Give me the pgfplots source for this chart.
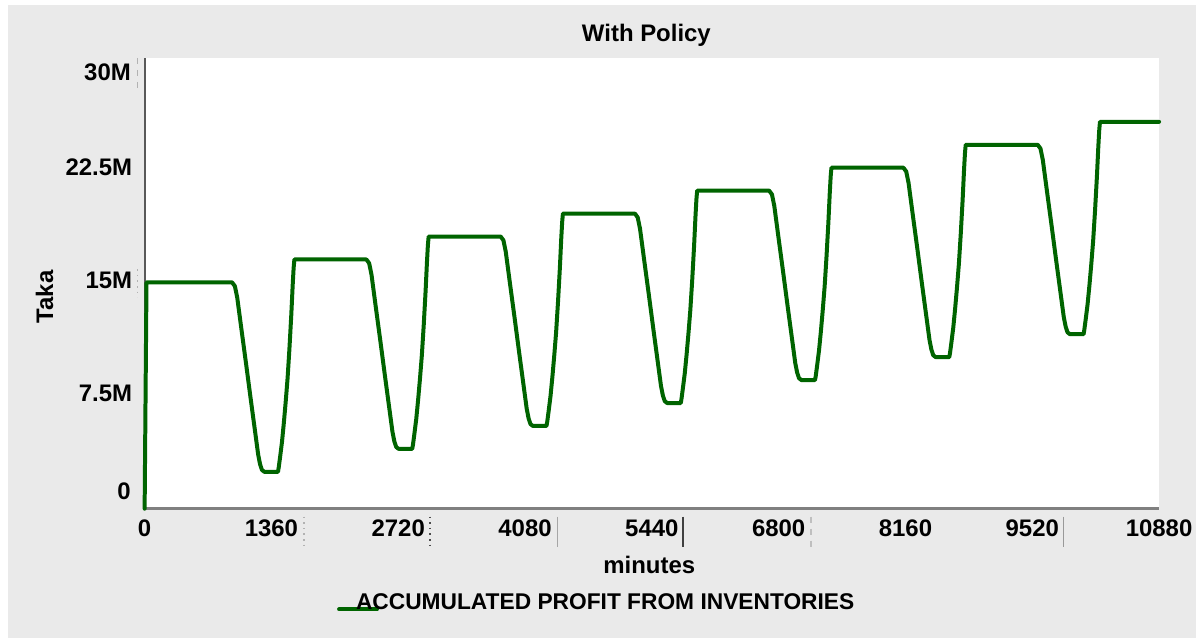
\documentclass[border=0pt]{standalone}
\usepackage{fontspec}
\setmainfont{Liberation Sans}
\usepackage{pgfplots}
\pgfplotsset{compat=1.18}
\definecolor{bg}{RGB}{234,234,234}
\definecolor{lineg}{RGB}{0,100,0}
\newcommand\tf{\bfseries\fontsize{12}{14}\selectfont}
\newcommand\lf{\bfseries\fontsize{11.4}{13}\selectfont}
\pgfplotstableread{
t v
0 0
20 15.06
938 15.060
968 14.808
993 14.052
1038 11.947
1088 9.640
1138 7.283
1188 4.976
1218 3.589
1238 2.959
1258 2.581
1284 2.455
1430 2.455
1438 2.738
1453 3.444
1473 4.433
1493 5.705
1513 7.118
1533 8.673
1553 10.651
1573 12.912
1588 14.890
1598 16.021
1606 16.586
2378 16.586
2408 16.334
2433 15.578
2478 13.473
2528 11.166
2578 8.809
2628 6.502
2658 5.115
2678 4.485
2698 4.107
2724 3.981
2870 3.981
2878 4.264
2893 4.970
2913 5.959
2933 7.231
2953 8.644
2973 10.199
2993 12.177
3013 14.438
3028 16.416
3038 17.547
3046 18.112
3818 18.112
3848 17.860
3873 17.104
3918 14.999
3968 12.692
4018 10.335
4068 8.028
4098 6.641
4118 6.011
4138 5.633
4164 5.507
4310 5.507
4318 5.790
4333 6.496
4353 7.485
4373 8.757
4393 10.170
4413 11.725
4433 13.703
4453 15.964
4468 17.942
4478 19.073
4486 19.638
5258 19.638
5288 19.386
5313 18.630
5358 16.525
5408 14.218
5458 11.861
5508 9.554
5538 8.167
5558 7.537
5578 7.159
5604 7.033
5750 7.033
5758 7.316
5773 8.022
5793 9.011
5813 10.283
5833 11.696
5853 13.251
5873 15.229
5893 17.490
5908 19.468
5918 20.599
5926 21.164
6698 21.164
6728 20.912
6753 20.156
6798 18.051
6848 15.744
6898 13.387
6948 11.080
6978 9.693
6998 9.063
7018 8.685
7044 8.559
7190 8.559
7198 8.842
7213 9.548
7233 10.537
7253 11.809
7273 13.222
7293 14.777
7313 16.755
7333 19.016
7348 20.994
7358 22.125
7366 22.690
8138 22.690
8168 22.438
8193 21.682
8238 19.577
8288 17.270
8338 14.913
8388 12.606
8418 11.219
8438 10.589
8458 10.211
8484 10.085
8630 10.085
8638 10.368
8653 11.074
8673 12.063
8693 13.335
8713 14.748
8733 16.303
8753 18.281
8773 20.542
8788 22.520
8798 23.651
8806 24.216
9578 24.216
9608 23.964
9633 23.208
9678 21.103
9728 18.796
9778 16.439
9828 14.132
9858 12.745
9878 12.115
9898 11.737
9924 11.611
10070 11.611
10078 11.894
10093 12.600
10113 13.589
10133 14.861
10153 16.274
10173 17.829
10193 19.807
10213 22.068
10228 24.046
10238 25.177
10246 25.742
10880 25.742
}\profit
\begin{document}
\begin{tikzpicture}
\begin{scope}[x=0.5pt,y=0.5pt]
\fill[white] (0,0) rectangle (1199,640);
\fill[bg] (8,0) rectangle (1199,635);
\end{scope}
\begin{axis}[
  at={(72.5pt,65pt)}, anchor=south west,
  width=508.5pt, height=226pt, scale only axis,
  xmin=0, xmax=10880, ymin=0, ymax=30,
  clip=false,
  axis background/.style={fill=white},
  axis x line*=bottom, axis y line*=left,
  axis line style={-},
  x axis line style={draw=black!50, line width=1.5pt},
  y axis line style={draw=black!65, line width=1pt},
  major tick length=0pt, tick style={draw=none},
  scaled x ticks=false, scaled y ticks=false,
  xtick={0,1360,2720,4080,5440,6800,8160,9520,10880},
  xticklabels={0,1360,2720,4080,5440,6800,8160,9520,10880},
  ytick={0,7.5,15,22.5,30},
  yticklabels={,7.5M,15M,22.5M,},
  xticklabel style={font=\tf, yshift=-2pt},
  yticklabel style={font=\tf, xshift=-2.75pt, yshift=1.5pt},
  title={With Policy},
  title style={font=\tf, at={(axis description cs:0.4946,1)}, anchor=base, yshift=2.2pt},
  xlabel={minutes},
  xlabel style={font=\tf, at={(axis description cs:0.4975,0)}, anchor=base, yshift=-32.5pt},
  ylabel={Taka},
  ylabel style={font=\tf, at={(axis description cs:-0.0902,0.470)}, anchor=base, rotate=0},
  legend style={at={(axis description cs:0.1917,-0.2102)}, anchor=west, draw=none, fill=none,
    inner sep=0pt, outer sep=0pt, font=\lf, nodes={inner sep=0pt}},
  legend image code/.code={\draw[#1, overlay] (0pt,-3pt) -- (19pt,-3pt); \path[draw=none, fill=none] (0pt,0pt) -- (8.5pt,0pt);},
]
\addplot[lineg, line width=2pt, line join=round, line cap=round] table[x=t, y=v] {\profit};
\addlegendentry{ACCUMULATED PROFIT FROM INVENTORIES}
\end{axis}
\begin{scope}[x=0.5pt,y=0.5pt]
\node[anchor=east, inner sep=0pt, font=\tf] at (131.5,147) {0};
\node[anchor=east, inner sep=0pt, font=\tf] at (131.5,568) {30M};
\draw[gray!60, line width=0.8pt, dotted] (305,122) -- (305,92);
\draw[black!70, line width=0.8pt, dotted] (431,122) -- (431,92);
\draw[gray!70, line width=0.8pt] (559,122) -- (559,92);
\draw[black!75, line width=0.8pt] (685,122) -- (685,92);
\draw[gray!50, line width=0.8pt, dashed] (813,122) -- (813,92);
\draw[gray!80, line width=0.8pt] (1066,122) -- (1066,92);
\draw[gray!60, line width=0.8pt, dashed] (138,582) -- (138,552);
\draw[gray!60, line width=0.8pt, dotted] (138,370) -- (138,342);
\end{scope}
\end{tikzpicture}
\end{document}
